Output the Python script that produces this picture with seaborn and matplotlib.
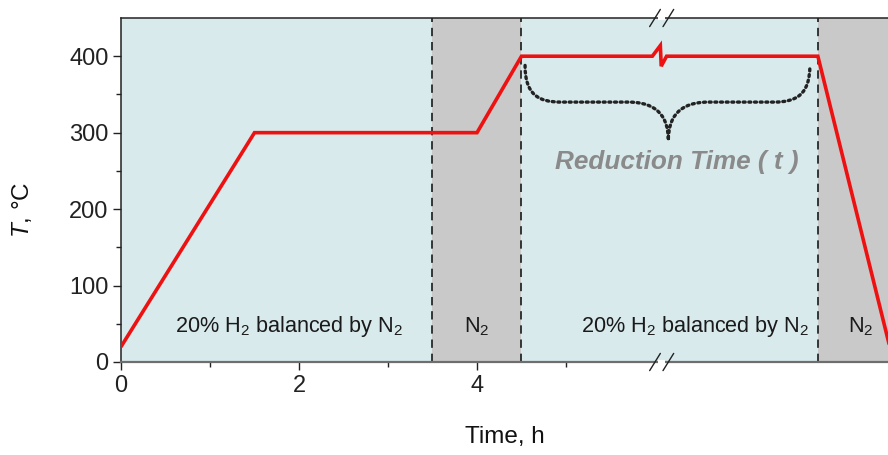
import numpy as np
import pandas as pd
import matplotlib
matplotlib.use("Agg")
import matplotlib.pyplot as plt
from matplotlib.path import Path
from matplotlib.patches import PathPatch
import seaborn as sns

# Temperature program (time on the drawn, broken axis, hours; T in degC)
time_h = [0.0, 1.5, 4.0, 4.5, 5.97, 6.06, 6.07, 6.13, 7.83, 8.68]
temp_c = [20, 300, 300, 400, 400, 414, 387, 400, 400, 0]

# Gas atmosphere segments (start, end, label)
seg_start = [0.0, 3.5, 4.5, 7.83]
seg_end = [3.5, 4.5, 7.83, 9.0]
seg_gas = ["20% H$_2$ balanced by N$_2$", "N$_2$", "20% H$_2$ balanced by N$_2$", "N$_2$"]
seg_is_n2 = [False, True, False, True]
seg_label_x = [1.89, 4.0, 6.45, 8.31]
label_y = 46

x_major = [0, 2, 4]
x_minor = [1, 3, 5]
y_major = [0, 100, 200, 300, 400]
y_minor = [50, 150, 250, 350]
x_max = 8.618
y_max = 450
break_x = 6.07

sns.set_style("ticks")
plt.rcParams["font.family"] = ["Liberation Sans", "DejaVu Sans"]
plt.rcParams["mathtext.fontset"] = "custom"
plt.rcParams["mathtext.rm"] = "Liberation Sans"
plt.rcParams["mathtext.it"] = "Liberation Sans:italic"

fig = plt.figure(figsize=(8.88, 4.55), dpi=100)
ax = fig.add_axes([121 / 888, 1 - 362 / 455, 1 - 121 / 888, (362 - 18) / 455])

h2_color = "#d8eaec"
n2_color = "#c9c9c9"
ax.set_facecolor(h2_color)

for s, e, n2 in zip(seg_start, seg_end, seg_is_n2):
    if n2:
        ax.axvspan(s, e, color=n2_color, lw=0, zorder=0)
for s in seg_start[1:]:
    ax.axvline(s, color="#1a1a1a", lw=1.2, ls=(0, (5, 3.5)), zorder=1)

df = pd.DataFrame({"time": time_h, "T": temp_c})
sns.lineplot(data=df, x="time", y="T", sort=False, color="#ee1111",
             lw=2.6, ax=ax, zorder=3, solid_joinstyle="miter")

for txt, xl in zip(seg_gas, seg_label_x):
    ax.text(xl, label_y, txt, ha="center", va="center", fontsize=15.6,
            color="#1a1a1a", zorder=4)

# dotted curly brace spanning the hold at 400 degC
xl, xr, xm = 4.54, 7.74, 6.15
yt, yb, ytip = 388, 340, 290
verts = [
    (xl, yt), (xl, yb + 10), (xl + 0.15, yb), (xl + 0.4, yb),
    (xm - 0.45, yb),
    (xm - 0.12, yb), (xm, yb - 20), (xm, ytip),
    (xm, yb - 20), (xm + 0.12, yb), (xm + 0.45, yb),
    (xr - 0.4, yb),
    (xr - 0.15, yb), (xr, yb + 10), (xr, yt),
]
codes = [Path.MOVETO, Path.CURVE4, Path.CURVE4, Path.CURVE4,
         Path.LINETO,
         Path.CURVE4, Path.CURVE4, Path.CURVE4,
         Path.CURVE4, Path.CURVE4, Path.CURVE4,
         Path.LINETO,
         Path.CURVE4, Path.CURVE4, Path.CURVE4]
ax.add_patch(PathPatch(Path(verts, codes), fill=False, lw=2.4,
                       ls=(0, (0.6, 1.1)), color="#222222", zorder=3,
                       capstyle="round"))
ax.text(6.24, 261, "Reduction Time ( t )", ha="center", va="center",
        fontsize=18.8, style="italic", fontweight="bold", color="#8a8a8a",
        zorder=4)

ax.set_xlim(0, x_max)
ax.set_ylim(0, y_max)
ax.set_xticks(x_major)
ax.set_xticks(x_minor, minor=True)
ax.set_yticks(y_major)
ax.set_yticks(y_minor, minor=True)
ax.tick_params(which="major", direction="out", length=6, width=1,
               labelsize=17, colors="#222222", pad=3)
ax.tick_params(which="minor", direction="out", length=3.5, width=1,
               colors="#222222")
for side in ["left", "top"]:
    ax.spines[side].set_color("#222222")
    ax.spines[side].set_linewidth(1.1)
ax.spines["bottom"].set_color("#6e6e6e")
ax.spines["bottom"].set_linewidth(1.6)
ax.spines["right"].set_visible(False)

ax.set_xlabel("Time, h", fontsize=17.5, color="#111111")
ax.set_ylabel("$T$, °C", fontsize=17.5, color="#111111")
ax.xaxis.set_label_coords(0.5, (362 - 426) / 344)
ax.yaxis.set_label_coords((34 - 121) / 767, (362 - 210) / 344)

# axis break marks on top and bottom spines
for yy in (0, 1):
    ax.plot([break_x - 0.04, break_x + 0.04], [yy, yy], transform=ax.get_xaxis_transform(),
            color="white", lw=3, clip_on=False, zorder=5, solid_capstyle="butt")
    for dx in (-0.07, 0.08):
        ax.plot([break_x + dx - 0.06, break_x + dx + 0.06],
                [yy - 0.025, yy + 0.025], transform=ax.get_xaxis_transform(),
                color="#222222", lw=1.0, clip_on=False, zorder=6)

fig.savefig("out.png", dpi=100)
